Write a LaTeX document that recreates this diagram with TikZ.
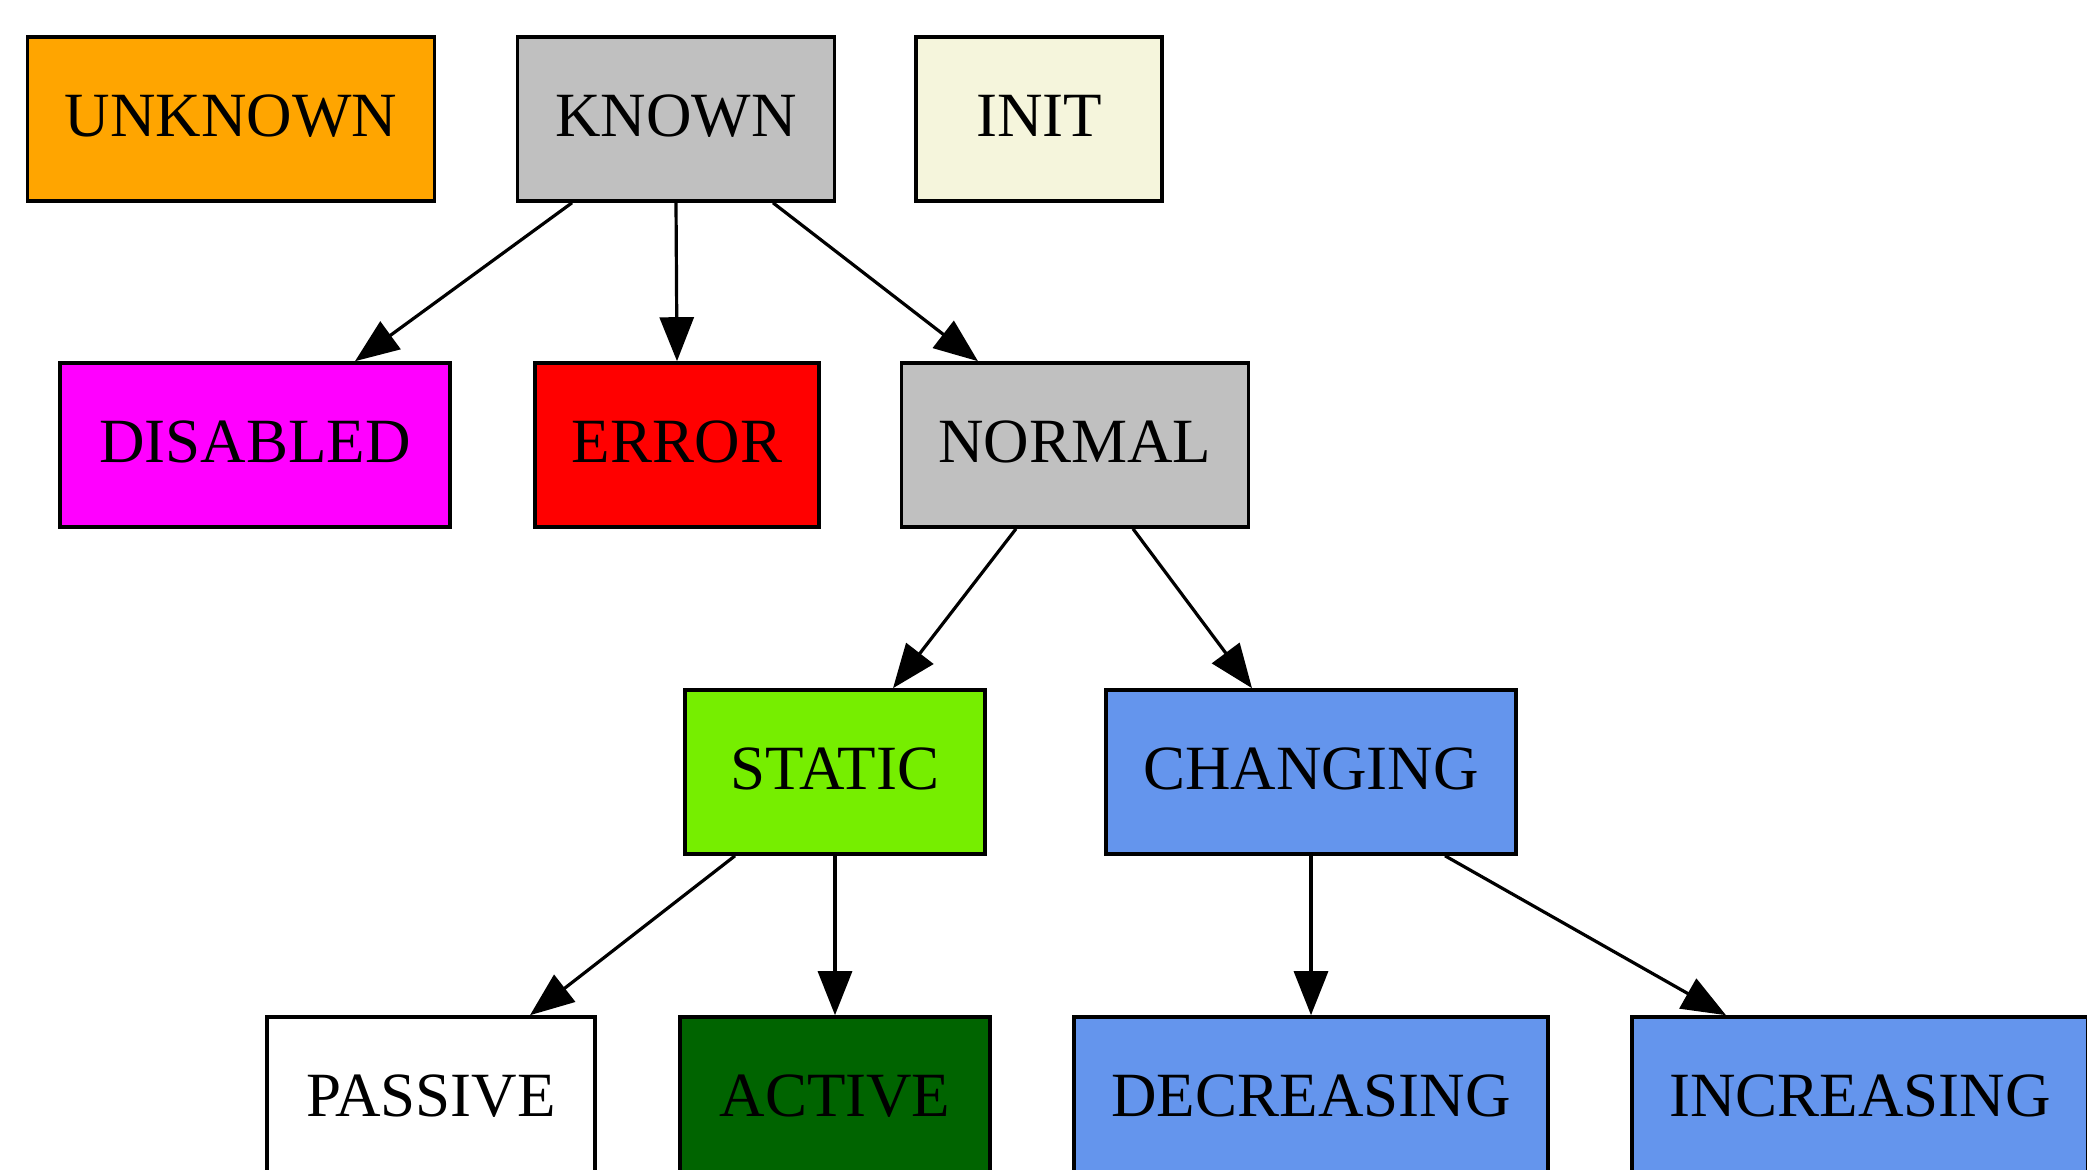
\documentclass[tikz,border=0pt]{standalone}
\usepackage{fontspec}
\setmainfont{Liberation Serif}
\usetikzlibrary{arrows.meta}

\definecolor{orangeX}{RGB}{255,165,0}
\definecolor{grayX}{RGB}{192,192,192}
\definecolor{beigeX}{RGB}{245,245,220}
\definecolor{magentaX}{RGB}{255,0,255}
\definecolor{redX}{RGB}{255,0,0}
\definecolor{chartreuseX}{RGB}{118,238,0}
\definecolor{darkgreenX}{RGB}{0,100,0}
\definecolor{cornflowerX}{RGB}{100,149,237}

\begin{document}
\begin{tikzpicture}[x=0.5pt, y=-0.5pt,
    state/.style={draw, line width=1.8pt, rectangle, minimum width=#1,
        minimum height=82pt, inner xsep=2pt, text depth=3.5pt,
        font=\fontsize{31.5}{37}\selectfont},
    state/.default=123pt,
    edge/.style={line width=1.6pt, -{Triangle[length=22pt, width=17pt]}}]
    \pgfmathsetmacro{\ya}{119}
    \pgfmathsetmacro{\yb}{445}
    \pgfmathsetmacro{\yc}{772}
    \pgfmathsetmacro{\yd}{1099}

    \useasboundingbox (0,0) rectangle (2087,1170);

    \node[state=203.5pt, fill=orangeX] (unknown) at (231,\ya) {UNKNOWN};
    \node[state=158.5pt, fill=grayX] (known) at (676,\ya) {KNOWN};
    \node[state=123pt, fill=beigeX] (init) at (1039,\ya) {INIT};

    \node[state=195pt, fill=magentaX] (disabled) at (255,\yb) {DISABLED};
    \node[state=142pt, fill=redX] (error) at (677,\yb) {ERROR};
    \node[state=173.5pt, fill=grayX] (normal) at (1075,\yb) {NORMAL};

    \node[state=150pt, fill=chartreuseX] (static) at (835,\yc) {STATIC};
    \node[state=205pt, fill=cornflowerX] (changing) at (1311,\yc) {CHANGING};

    \node[state=164pt, fill=white] (passive) at (431,\yd) {PASSIVE};
    \node[state=155pt, fill=darkgreenX] (active) at (835,\yd) {ACTIVE};
    \node[state=237pt, fill=cornflowerX] (decreasing) at (1311,\yd) {DECREASING};
    \node[state=228pt, fill=cornflowerX] (increasing) at (1860,\yd) {INCREASING};

    \draw[edge] ([xshift=-52pt]known.south) -- ([xshift=50pt]disabled.north);
    \draw[edge] (known.south) -- (error.north);
    \draw[edge] ([xshift=48.5pt]known.south) -- ([xshift=-48.5pt]normal.north);
    \draw[edge] ([xshift=-29.5pt]normal.south) -- ([xshift=29pt]static.north);
    \draw[edge] ([xshift=29pt]normal.south) -- ([xshift=-29.5pt]changing.north);
    \draw[edge] ([xshift=-50pt]static.south) -- ([xshift=49.5pt]passive.north);
    \draw[edge] (static.south) -- (active.north);
    \draw[edge] (changing.south) -- (decreasing.north);
    \draw[edge] ([xshift=67pt]changing.south) -- ([xshift=-67pt]increasing.north);
\end{tikzpicture}
\end{document}
